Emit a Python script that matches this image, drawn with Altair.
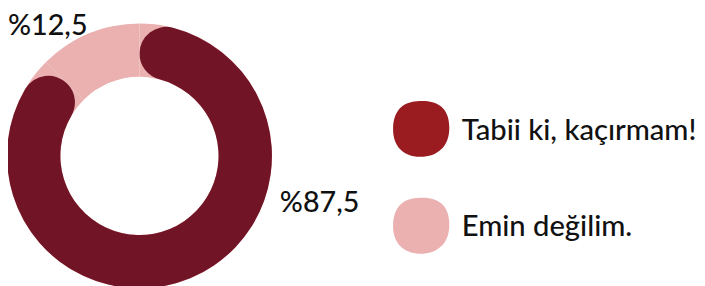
import altair as alt
import pandas as pd

categories = ["Tabii ki, kaçırmam!", "Emin değilim."]
values = [87.5, 12.5]
donut_colors = ["#701426", "#ebb0b0"]
legend_colors = ["#9a1c20", "#ebb0b0"]

df = pd.DataFrame({
    "cat": categories,
    "value": values,
    "order": list(range(len(categories))),
    "label": ["%" + f"{v:.1f}".replace(".", ",") for v in values],
})

FONT = "Lato"
CX, CY = 133, 148
R_OUT, R_IN = 134, 80

blob = ("M -0.15 -0.97 C 0.45 -1.02 0.98 -0.85 0.99 -0.05 "
        "C 1.0 0.65 0.55 1.0 -0.05 0.99 C -0.62 0.98 -1.0 0.62 -0.99 0.0 "
        "C -0.98 -0.62 -0.68 -0.93 -0.15 -0.97 Z")

base = alt.Chart(df)

track = base.mark_arc(outerRadius=R_OUT, innerRadius=R_IN, color=donut_colors[1]).encode(
    theta=alt.Theta("value:Q", stack=True),
    order=alt.Order("order:Q"),
    x=alt.value(CX), y=alt.value(CY),
)

arcs = base.mark_arc(outerRadius=R_OUT, innerRadius=R_IN, cornerRadius=(R_OUT - R_IN) / 2).encode(
    theta=alt.Theta("value:Q", stack=True),
    order=alt.Order("order:Q"),
    color=alt.Color("cat:N", scale=alt.Scale(domain=categories, range=donut_colors), legend=None),
    x=alt.value(CX), y=alt.value(CY),
)

lab_big = base.transform_filter(alt.datum.order == 0).mark_text(
    font=FONT, fontSize=29, fontWeight=500, align="left", baseline="alphabetic", color="#111111"
).encode(text="label:N", x=alt.value(275), y=alt.value(205))

lab_small = base.transform_filter(alt.datum.order == 1).mark_text(
    font=FONT, fontSize=29, fontWeight=500, align="left", baseline="alphabetic", color="#111111"
).encode(text="label:N", x=alt.value(0), y=alt.value(26))

ypos = alt.Y("cat:N", scale=alt.Scale(type="point", domain=categories, range=[120.5, 218.5], padding=0), axis=None)

legend_sym = base.mark_point(shape=blob, filled=True, size=3300, opacity=1).encode(
    y=ypos,
    x=alt.value(418),
    fill=alt.Fill("cat:N", scale=alt.Scale(domain=categories, range=legend_colors), legend=None),
)

legend_txt = base.mark_text(
    font=FONT, fontSize=29.5, fontWeight=500, align="left", baseline="alphabetic", dy=11, color="#111111"
).encode(y=ypos, x=alt.value(459), text="cat:N")

chart = alt.layer(track, arcs, lab_big, lab_small, legend_sym, legend_txt).resolve_scale(
    color="independent", fill="independent"
).properties(
    width=697, height=278, padding=0, autosize=alt.AutoSizeParams(type="none")
).configure_view(stroke=None)

chart.save("out.html", embed_options={"renderer": "svg", "actions": False})
